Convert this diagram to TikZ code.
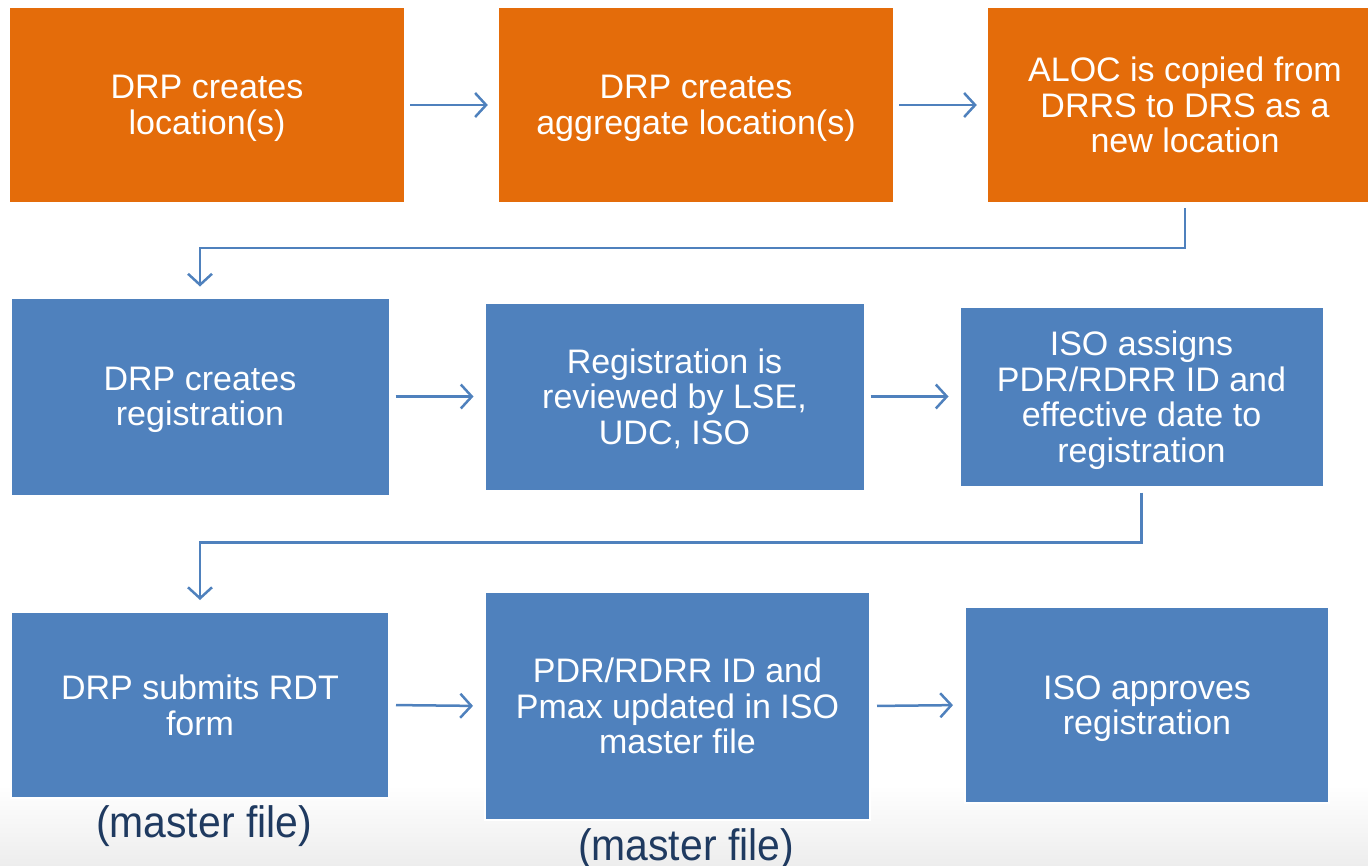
\documentclass[tikz,border=0pt]{standalone}
\usepackage{fontspec}
\setmainfont{Liberation Sans}
\usetikzlibrary{arrows.meta,positioning}
\definecolor{stepOrange}{HTML}{E46C0A}
\definecolor{stepBlue}{HTML}{4F81BD}
\definecolor{noteNavy}{HTML}{1F3A60}
\begin{document}
\begin{tikzpicture}[x=1pt,y=-1pt,
  box/.style={fill=#1, text=white, align=center, inner sep=0pt, text depth=0pt,
    font=\fontsize{34}{35.5}\selectfont},
  flow/.style={draw=stepBlue, line width=2.5pt,
    -{Straight Barb[length=11pt,width=24pt]},
    shorten <=6pt, shorten >=11pt},
  note/.style={text=noteNavy, font=\fontsize{44}{44}\selectfont, xscale=0.93}]
  \useasboundingbox (0,0) rectangle (1368,865);
  \clip (0,0) rectangle (1368,865);
  \shade[top color=white, bottom color=gray!14] (0,785) rectangle (1368,865);

  % row 1
  \node[box=stepOrange, minimum width=394pt, minimum height=194pt] (drpLoc) at (207,105) {DRP creates\\location(s)};
  \node[box=stepOrange, minimum width=394pt, minimum height=194pt] (aggLoc) at (696,105) {DRP creates\\aggregate location(s)};
  \node[box=stepOrange, minimum width=394pt, minimum height=194pt] (alocCopy) at (1185,105) {ALOC is copied from\\DRRS to DRS as a\\new location};

  % row 2
  \node[box=stepBlue, draw=white, line width=1pt, minimum width=378pt, minimum height=197pt] (drpReg) at (200,396.5) {DRP creates\\registration};
  \node[box=stepBlue, draw=white, line width=1pt, minimum width=379pt, minimum height=187pt] (regReview) at (674.5,396.5) {Registration is\\reviewed by LSE,\\UDC, ISO};
  \node[box=stepBlue, draw=white, line width=1pt, minimum width=363pt, minimum height=179pt] (isoAssign) at (1141.5,396.5) {ISO assigns\\PDR/RDRR ID and\\effective date to\\registration};

  % row 3
  \node[box=stepBlue, draw=white, line width=2pt, minimum width=378pt, minimum height=186pt] (rdtForm) at (200,705) {DRP submits RDT\\form};
  \node[box=stepBlue, draw=white, line width=2pt, minimum width=385pt, minimum height=228pt] (pmaxUpd) at (677.5,706) {PDR/RDRR ID and\\Pmax updated in ISO\\master file};
  \node[box=stepBlue, draw=white, line width=2pt, minimum width=364pt, minimum height=196pt] (isoApprove) at (1147,705) {ISO approves\\registration};

  \node[note] (noteLeft) at (204,826) {(master file)};
  \node[note] (noteRight) at (686,849) {(master file)};

  \draw[flow] (drpLoc.east) -- (aggLoc.west);
  \draw[flow] (aggLoc.east) -- (alocCopy.west);
  \draw[flow] (alocCopy.south) -- ++(0,46) -| (drpReg.north);
  \draw[flow] (drpReg.east) -- (regReview.west);
  \draw[flow] (regReview.east) -- (isoAssign.west);
  \draw[flow] (isoAssign.south) -- ++(0,56) -| (rdtForm.north);
  \draw[flow] (rdtForm.east) -- (pmaxUpd.west);
  \draw[flow] (pmaxUpd.east) -- (isoApprove.west);
\end{tikzpicture}
\end{document}
